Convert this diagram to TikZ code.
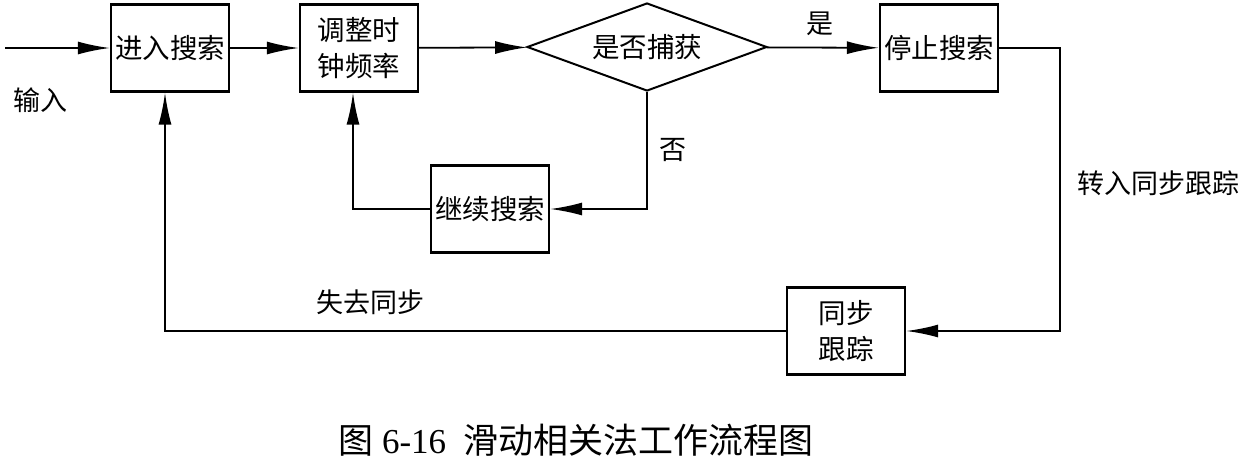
\documentclass[tikz,border=0pt]{standalone}
\usepackage{fontspec}
\setmainfont{Liberation Serif}
\newfontfamily\cjk{Noto Sans CJK SC}
\usepackage{tikz}
\usetikzlibrary{arrows.meta, shapes.geometric, positioning}

\tikzset{
    blk/.style={draw, line width=2.4pt, minimum width=118pt, minimum height=87pt,
        inner sep=0pt, align=center, font=\cjk\fontsize{27.5}{36}\selectfont},
    cond/.style={draw, diamond, aspect=2.7, line width=2pt, minimum width=240pt,
        minimum height=88pt, inner sep=0pt, font=\cjk\fontsize{27.5}{36}\selectfont},
    arr/.style={-{Latex[length=32pt, width=13pt]}, line width=1.8pt},
    lbl/.style={font=\cjk\fontsize{27}{30}\selectfont},
}

\begin{document}
\begin{tikzpicture}[x=1pt, y=-1pt]
    \useasboundingbox (0, 0) rectangle (1244, 463);
    \node[blk] (srch) at (170, 48) {进入搜索};
    \node[blk] (adj) at (359, 48) {调整时\\钟频率};
    \node[cond] (cap) at (647, 47) {是否捕获};
    \node[blk] (stop) at (939, 48) {停止搜索};
    \node[blk] (cont) at (490, 209) {继续搜索};
    \node[blk] (sync) at (846, 331) {同步\\跟踪};
    \coordinate (in) at (5, 48);
    \coordinate (tr) at (1060, 331);
    \coordinate (bl) at (165, 331);
    \coordinate (cl) at (353, 209);
    \node[lbl] (inl) at (40, 100) {输入};
    \node[lbl] (yes) at (820, 24) {是};
    \node[lbl] (no) at (673, 150) {否};
    \node[lbl] (tosync) at (1158, 183) {转入同步跟踪};
    \node[lbl] (lost) at (370, 302) {失去同步};
    \node (cpt) at (576, 440) {\fontsize{35}{40}\selectfont{\cjk 图}\ 6-16\ \ {\cjk 滑动相关法工作流程图}};
    \draw
    (in) edge[arr] (srch)
    (srch) edge[arr] (adj)
    (adj) edge[arr] (cap)
    (cap) edge[arr] (stop);
    \draw[arr] (stop) -| (tr) -- (sync);
    \draw[arr] (sync) -- (bl) -- (bl |- srch.south);
    \draw[arr] (cap.south) |- (cont);
    \draw[arr] (cont) -- (cl) -- (cl |- adj.south);
\end{tikzpicture}
\end{document}
